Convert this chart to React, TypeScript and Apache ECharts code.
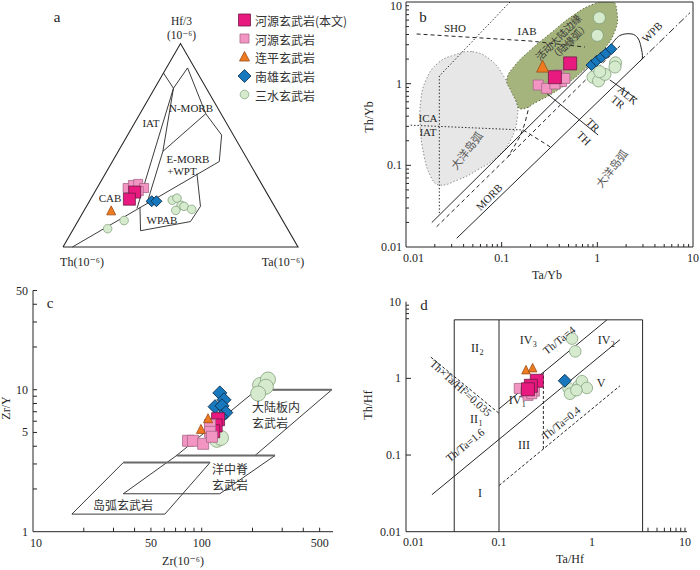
import React, { useEffect, useRef } from "react";
import * as echarts from "echarts";

const SERIF = '"Liberation Serif", "DejaVu Serif", serif';
const CJK = '"Noto Sans CJK SC", "Noto Sans CJK JP", sans-serif';
const INK = "#262626";

/* ================= Panel a : Th - Hf/3 - Ta  (compositions [Th, Hf/3, Ta]) ================= */
const aThisStudy = [[0.56, 0.27, 0.17], [0.6, 0.235, 0.165]];
const aHeyuan = [[0.58, 0.29, 0.13], [0.55, 0.305, 0.145], [0.525, 0.31, 0.165], [0.51, 0.29, 0.2], [0.54, 0.275, 0.185]];
const aLianping = [[0.705, 0.18, 0.115]];
const aNanxiong = [[0.51, 0.225, 0.265], [0.49, 0.225, 0.285]];
const aSanshui = [[0.42, 0.23, 0.35], [0.395, 0.24, 0.365], [0.395, 0.205, 0.4], [0.43, 0.18, 0.39], [0.385, 0.2, 0.415], [0.36, 0.185, 0.455], [0.675, 0.13, 0.195], [0.765, 0.09, 0.145]];

const aTriangle = [[1, 0, 0], [0, 1, 0], [0, 0, 1], [1, 0, 0]];
const aLineEW = [[0.96, 0, 0.04], [0.125, 0.42, 0.455]];
const aNMorbTop = [[0.145, 0.855, 0], [0.14, 0.78, 0.08], [0.03, 0.88, 0.09], [0.065, 0.655, 0.28], [0.05, 0.55, 0.4], [0.125, 0.42, 0.455]];
const aNMorbLeft = [[0.14, 0.78, 0.08], [0.34, 0.47, 0.19], [0.535, 0.215, 0.25]];
const aNMorbBase = [[0.34, 0.47, 0.19], [0.065, 0.655, 0.28]];
const aArcLine = [[0.14, 0.78, 0.08], [0.59, 0.19, 0.22]];
const aWPAB = [[0.575, 0.195, 0.23], [0.63, 0.08, 0.29], [0.395, 0.125, 0.48], [0.315, 0.2, 0.485], [0.25, 0.36, 0.39]];

/* ================= Panel b : Th/Yb vs Ta/Yb ================= */
const bThisStudy = [[0.52, 1.77], [0.36, 1.2]];
const bHeyuan = [[0.241, 0.963], [0.295, 0.877], [0.39, 1.28], [0.423, 1.06], [0.458, 1.16], [0.36, 0.99]];
const bLianping = [[0.268, 1.64]];
const bNanxiong = [[0.87, 1.69], [0.98, 1.9], [1.1, 2.1], [1.23, 2.35], [1.4, 2.65]];
const bSanshui = [[1.05, 6.4], [1.0, 3.9], [0.9, 1.2], [1.03, 1.08], [1.2, 1.3], [1.06, 1.4], [1.55, 1.8], [1.53, 1.6]];

const bOceanArcField = [[0.0496, 2.46], [0.0767, 1.95], [0.1057, 1.216], [0.14, 0.63], [0.146, 0.394], [0.124, 0.204], [0.09, 0.128], [0.0558, 0.0877], [0.0346, 0.066], [0.0222, 0.0574], [0.0182, 0.0725], [0.0155, 0.128], [0.0141, 0.297], [0.0143, 0.63], [0.0162, 1.11], [0.0214, 1.77], [0.0318, 2.24]];
const bActiveMarginField = [[1.42, 10.3], [1.61, 7.28], [1.54, 4.54], [1.16, 2.58], [0.72, 1.47], [0.412, 0.877], [0.235, 0.601], [0.158, 0.49], [0.14, 0.631], [0.124, 0.835], [0.113, 1.11], [0.134, 1.61], [0.2, 2.58], [0.324, 4.14], [0.566, 6.93], [0.915, 9.44]];
const bArrayUpper = [[0.0186, 0.0199], [1.42, 3.06]];
const bArrayCap = [[1.42, 3.06], [1.72, 3.89], [2.3, 4.06], [2.65, 3.62], [2.86, 2.81], [2.96, 2.06], [2.79, 1.89]];
const bArrayLower = [[0.0339, 0.0128], [2.79, 1.89]];
const bTrend = [[2.79, 1.89], [9.3, 7.4]];
const bThLine = [[0.0209, 0.0177], [0.117, 0.128], [0.155, 0.224], [0.175, 0.327], [0.193, 0.522]];
const bTrLine = [[0.117, 0.128], [1.72, 2.89]];
const bIcaLink = [[0.168, 0.271], [0.32, 0.169]];
const bIcaIat = [[0.0112, 0.31], [0.168, 0.271]];
const bShoIca = [[0.0129, 4.06], [0.198, 3.33], [0.741, 2.81]];
const bOceanic = [[0.122, 10], [0.0223, 1.24], [0.0223, 0.0247]];
const bTrTh = [[0.295, 0.762], [1.02, 0.235]];
const bAlkTr = [[1.35, 1.11], [2.59, 0.648]];
const bTickMajor = [0.1, 1];
const bTickMinor = [0.02, 0.03, 0.04, 0.05, 0.06, 0.07, 0.08, 0.09, 0.2, 0.3, 0.4, 0.5, 0.6, 0.7, 0.8, 0.9, 2, 3, 4, 5, 6, 7, 8, 9];
const bLabelVals = [0.01, 0.1, 1, 10];
const bLabels = ["0.01", "0.1", "1", "10"];

/* ================= Panel c : Zr/Y vs Zr ================= */
const cThisStudy = [[125, 6.2], [121, 5.6], [117, 5.1]];
const cHeyuan = [[83, 4.37], [88.7, 4.37], [102, 4.16], [112, 5.66], [112, 5.05], [115, 4.66]];
const cLianping = [[109, 6.3], [99, 5.3]];
const cNanxiong = [[128, 9.5], [135.5, 8.5], [120, 7.6], [132, 7.7], [139, 6.9], [130, 6.45]];
const cSanshui = [[222, 10.8], [247, 11.8], [240, 10.5], [216, 9.4], [123, 4.44], [130, 4.58]];
const cIAB = [[34.3, 3.07], [112, 3.07], [60.5, 1.33], [17, 1.33]];
const cMORB = [[71, 3.44], [272, 3.44], [128, 1.85], [34.3, 1.85]];
const cWPB = [[212, 10], [590, 10], [207, 3.44], [71, 3.44]];
const cXTicks = [20, 30, 40, 50, 60, 70, 80, 90, 100, 200, 300, 400, 500];
const cXLabelVals = [10, 50, 100, 500];
const cXLabels = ["10", "50", "100", "500"];
const cYTicks = [2, 3, 4, 5, 6, 7, 8, 9, 10, 20, 30, 40, 50];
const cYLabelVals = [1, 5, 10, 50];
const cYLabels = ["1", "5", "10", "50"];

/* ================= Panel d : Th/Hf vs Ta/Hf ================= */
const dThisStudy = [[0.255, 0.93], [0.22, 0.8], [0.205, 0.72]];
const dHeyuan = [[0.165, 0.74], [0.195, 0.66], [0.24, 0.68], [0.205, 0.6], [0.225, 0.63]];
const dLianping = [[0.195, 1.3], [0.23, 1.38]];
const dNanxiong = [[0.51, 0.93]];
const dSanshui = [[0.61, 3.3], [0.66, 2.25], [0.56, 0.74], [0.58, 0.63], [0.72, 0.8], [0.78, 0.92], [0.88, 0.75], [0.68, 0.7]];
const dBox = [[0.033, 0.01], [0.033, 5.8], [3.5, 5.8], [3.5, 0.01]];
const dDivide = [[0.1, 0.01], [0.1, 5.8]];
const dThTa16 = [[0.019, 0.0304], [2.0, 3.2]];
const dThTa4 = [[0.1, 0.4], [1.45, 5.8]];
const dThTa04 = [[0.1, 0.04], [2.0, 0.8]];
const dProduct = [[0.0185, 1.89], [0.1, 0.35]];
const dVertical = [[0.3, 0.12], [0.3, 1.2]];
const dXTicks = [4, 5, 6, 7, 8, 9, 10];
const dYTickMajor = [0.1, 1];
const dYTickMinor = [6, 7, 8, 9];

const legendNames = ["河源玄武岩(本文)", "河源玄武岩", "连平玄武岩", "南雄玄武岩", "三水玄武岩"];

/* ================= styles ================= */
const STY: any = {
  thisStudy: { color: "#e8197f", borderColor: "#6e1a44", borderWidth: 0.8 },
  heyuan: { color: "#f395c3", borderColor: "#a8678a", borderWidth: 0.8 },
  lianping: { color: "#ef7b21", borderColor: "#9a4b15", borderWidth: 0.8 },
  nanxiong: { color: "#1778be", borderColor: "#0c2f4d", borderWidth: 0.9 },
  sanshui: { color: "#d6ebcd", borderColor: "#809f7b", borderWidth: 0.8 },
};
const SYM: any = { thisStudy: "rect", heyuan: "rect", lianping: "triangle", nanxiong: "diamond", sanshui: "circle" };
const DASH = [4, 3];
const DOT = [1.4, 2];
const DASHDOT = [7, 2.5, 1.5, 2.5];

const tern = (p: number[]) => {
  const s = p[0] + p[1] + p[2];
  return [(p[2] + p[1] / 2) / s, (p[1] * Math.sqrt(3)) / 2 / s];
};

function shape(grid: number, pts: number[][], o: any = {}) {
  return {
    type: "custom",
    coordinateSystem: "cartesian2d",
    xAxisIndex: grid,
    yAxisIndex: grid,
    dimensions: ["x", "y"],
    encode: { x: 0, y: 1 },
    data: [pts[0]],
    clip: !!o.clip,
    silent: true,
    z: o.z ?? 3,
    renderItem: (_p: any, api: any) => ({
      type: o.closed ? "polygon" : "polyline",
      shape: { points: pts.map((p) => api.coord(p)), smooth: o.smooth ?? 0 },
      style: {
        fill: o.fill ?? "none",
        stroke: o.stroke ?? INK,
        lineWidth: o.width ?? 1,
        lineDash: o.dash ?? null,
      },
    }),
  };
}

function scatter(grid: number, data: number[][], kind: string, size: number) {
  return {
    type: "scatter",
    xAxisIndex: grid,
    yAxisIndex: grid,
    data,
    symbol: SYM[kind],
    symbolSize: size,
    itemStyle: { ...STY[kind], opacity: 1 },
    z: 5,
    silent: true,
    clip: false,
  };
}

function ticks(grid: number, axis: string, vals: number[], fixed: number, len: number) {
  return {
    type: "custom",
    coordinateSystem: "cartesian2d",
    xAxisIndex: grid,
    yAxisIndex: grid,
    dimensions: ["x", "y"],
    encode: { x: 0, y: 1 },
    data: vals.map((v) => (axis === "x" ? [v, fixed] : [fixed, v])),
    clip: false,
    silent: true,
    z: 6,
    renderItem: (_p: any, api: any) => {
      const c = api.coord([api.value(0), api.value(1)]);
      const s = axis === "x" ? { x1: c[0], y1: c[1], x2: c[0], y2: c[1] - len } : { x1: c[0], y1: c[1], x2: c[0] + len, y2: c[1] };
      return { type: "line", shape: s, style: { stroke: INK, lineWidth: 1 } };
    },
  };
}

function axisLabels(grid: number, axis: string, vals: number[], texts: string[], fixed: number, off: number) {
  return {
    type: "custom",
    coordinateSystem: "cartesian2d",
    xAxisIndex: grid,
    yAxisIndex: grid,
    dimensions: ["x", "y"],
    encode: { x: 0, y: 1 },
    data: vals.map((v) => (axis === "x" ? [v, fixed] : [fixed, v])),
    clip: false,
    silent: true,
    z: 6,
    renderItem: (p: any, api: any) => {
      const c = api.coord([api.value(0), api.value(1)]);
      const i = p.dataIndex;
      const isX = axis === "x";
      const align = isX ? (i === 0 ? "left" : "center") : "right";
      const x = isX ? (i === 0 ? c[0] - 3 : c[0]) : c[0] - off;
      const y = isX ? c[1] + off : Math.max(c[1], 6);
      return {
        type: "text",
        x,
        y,
        style: {
          text: texts[i],
          font: `12px ${SERIF}`,
          fill: INK,
          textAlign: align,
          textVerticalAlign: "middle",
          align,
          verticalAlign: "middle",
        },
      };
    },
  };
}

function label(x: number, y: number, text: string, o: any = {}) {
  const align = o.align ?? "center";
  return {
    type: "text",
    x,
    y,
    rotation: ((o.rot ?? 0) * Math.PI) / 180,
    z: 100,
    silent: true,
    style: {
      text,
      font: `${o.size ?? 11}px ${o.font ?? SERIF}`,
      fill: o.color ?? INK,
      textAlign: align,
      textVerticalAlign: "middle",
      align,
      verticalAlign: "middle",
    },
  };
}

function roman(x: number, y: number, main: string, sub: string) {
  let w = 0;
  for (const ch of main) w += ch === "I" ? 4 : 8.7;
  const left = x - w / 2;
  const out: any[] = [label(left, y, main, { size: 12, align: "left" })];
  if (sub) out.push(label(left + w + 0.5, y + 4, sub, { size: 8, align: "left" }));
  return out;
}

function buildOption() {
  const series: any[] = [];
  // ---------- a ----------
  [aTriangle, aLineEW, aNMorbTop, aNMorbLeft, aNMorbBase, aArcLine, aWPAB].forEach((l) =>
    series.push(shape(0, l.map(tern), { width: l === aTriangle ? 1.1 : 0.9 }))
  );
  series.push(scatter(0, aSanshui.map(tern), "sanshui", 8.5));
  series.push(scatter(0, aNanxiong.map(tern), "nanxiong", 11));
  series.push(scatter(0, aHeyuan.map(tern), "heyuan", 9));
  series.push(scatter(0, aThisStudy.map(tern), "thisStudy", 12));
  series.push(scatter(0, aLianping.map(tern), "lianping", 9));

  // ---------- b ----------
  series.push(shape(1, bOceanArcField, { closed: true, fill: "#e7e7e7", stroke: "#8a8a8a", dash: DOT, smooth: 0.45, z: 1, clip: true }));
  series.push(shape(1, bActiveMarginField, { closed: true, fill: "#a5b47d", stroke: "#5e6b3e", dash: DOT, smooth: 0.45, z: 1, clip: true }));
  series.push(shape(1, bArrayUpper, {}));
  series.push(shape(1, bArrayLower, {}));
  series.push(shape(1, bArrayCap, { smooth: 0.35 }));
  series.push(shape(1, bTrend, { dash: DASHDOT, clip: true }));
  series.push(shape(1, bThLine, { dash: DASH }));
  series.push(shape(1, bTrLine, { dash: DASH }));
  series.push(shape(1, bIcaLink, { dash: DASH }));
  series.push(shape(1, bIcaIat, { dash: DOT }));
  series.push(shape(1, bShoIca, { dash: DASH }));
  series.push(shape(1, bOceanic, { dash: DOT, clip: true }));
  series.push(shape(1, bTrTh, {}));
  series.push(shape(1, bAlkTr, {}));
  series.push(shape(1, [[0.01, 0.01], [10, 0.01], [10, 10], [0.01, 10]], { closed: true, z: 4 }));
  series.push(scatter(1, bSanshui, "sanshui", 12));
  series.push(scatter(1, bNanxiong, "nanxiong", 11));
  series.push(scatter(1, bHeyuan, "heyuan", 10));
  series.push(scatter(1, bThisStudy, "thisStudy", 13));
  series.push(scatter(1, bLianping, "lianping", 12));
  series.push(ticks(1, "x", bTickMinor, 0.01, 3));
  series.push(ticks(1, "x", bTickMajor, 0.01, 5));
  series.push(ticks(1, "y", bTickMinor, 0.01, 3));
  series.push(ticks(1, "y", bTickMajor, 0.01, 5));
  series.push(axisLabels(1, "x", bLabelVals, bLabels, 0.01, 11));
  series.push(axisLabels(1, "y", bLabelVals, bLabels, 0.01, 4));

  // ---------- c ----------
  [cIAB, cMORB, cWPB].forEach((p) => series.push(shape(2, p, { closed: true, width: 0.9 })));
  [cIAB, cMORB, cWPB].forEach((p) => series.push(shape(2, [p[0], p[1]], { width: 2, stroke: "#6b6b6b" })));
  series.push(shape(2, [[600, 1], [10, 1], [10, 50]], { z: 4 }));
  series.push(scatter(2, cSanshui, "sanshui", 15));
  series.push(scatter(2, cNanxiong, "nanxiong", 14));
  series.push(scatter(2, cThisStudy, "thisStudy", 13));
  series.push(scatter(2, cHeyuan, "heyuan", 11));
  series.push(scatter(2, cLianping, "lianping", 9));
  series.push(ticks(2, "x", cXTicks, 1, 4));
  series.push(ticks(2, "y", cYTicks, 10, 4));
  series.push(axisLabels(2, "x", cXLabelVals, cXLabels, 1, 11.5));
  series.push(axisLabels(2, "y", cYLabelVals, cYLabels, 10, 5));

  // ---------- d ----------
  series.push(shape(3, dBox, {}));
  series.push(shape(3, dDivide, {}));
  series.push(shape(3, dThTa16, {}));
  series.push(shape(3, dThTa4, {}));
  series.push(shape(3, dThTa04, { dash: [3, 2] }));
  series.push(shape(3, dProduct, { dash: [3, 2] }));
  series.push(shape(3, dVertical, { dash: [3, 2] }));
  series.push(shape(3, [[10.5, 0.01], [0.01, 0.01], [0.01, 10]], { z: 4 }));
  series.push(scatter(3, dSanshui, "sanshui", 11.5));
  series.push(scatter(3, dNanxiong, "nanxiong", 13));
  series.push(scatter(3, dHeyuan, "heyuan", 10));
  series.push(scatter(3, dThisStudy, "thisStudy", 13));
  series.push(scatter(3, dLianping, "lianping", 8.5));
  series.push(ticks(3, "x", dXTicks, 0.01, 4));
  series.push(ticks(3, "y", dYTickMajor, 0.01, 5));
  series.push(ticks(3, "y", dYTickMinor, 0.01, 3));
  series.push(axisLabels(3, "x", bLabelVals, bLabels, 0.01, 10.5));
  series.push(axisLabels(3, "y", bLabelVals, bLabels, 0.01, 5));

  // ---------- texts ----------
  const g: any[] = [];
  // a
  g.push(label(57, 17, "a", { size: 15 }));
  g.push(label(181.5, 20.5, "Hf/3", { size: 11.5 }));
  g.push(label(181.5, 34.5, "(10⁻⁶)", { size: 11.5 }));
  g.push(label(82, 262, "Th(10⁻⁶)", { size: 12 }));
  g.push(label(283, 262, "Ta(10⁻⁶)", { size: 12 }));
  g.push(label(151, 123, "IAT"));
  g.push(label(191, 108, "N-MORB"));
  g.push(label(188, 159, "E-MORB"));
  g.push(label(182, 171, "+WPT"));
  g.push(label(110, 198, "CAB"));
  g.push(label(162, 220, "WPAB"));
  // legend
  const rows = [20, 38.5, 57, 76, 94.5];
  const mk = ["thisStudy", "heyuan", "lianping", "nanxiong", "sanshui"];
  rows.forEach((y, i) => {
    const s = STY[mk[i]];
    const st = { fill: s.color, stroke: s.borderColor, lineWidth: 0.8 };
    const cx = 244.5;
    if (i === 0) g.push({ type: "rect", shape: { x: cx - 6, y: y - 6, width: 12, height: 12 }, style: st, z: 100 });
    if (i === 1) g.push({ type: "rect", shape: { x: cx - 4.5, y: y - 4.5, width: 9, height: 9 }, style: st, z: 100 });
    if (i === 2) g.push({ type: "polygon", shape: { points: [[cx, y - 5.5], [cx + 5, y + 4], [cx - 5, y + 4]] }, style: st, z: 100 });
    if (i === 3) g.push({ type: "polygon", shape: { points: [[cx, y - 6.5], [cx + 6.5, y], [cx, y + 6.5], [cx - 6.5, y]] }, style: st, z: 100 });
    if (i === 4) g.push({ type: "circle", shape: { cx, cy: y, r: 4.3 }, style: st, z: 100 });
    g.push(label(255, y + 0.5, legendNames[i], { size: 12, font: CJK, align: "left", color: "#333" }));
  });
  // b
  g.push(label(423, 17, "b", { size: 15 }));
  g.push(label(455, 28, "SHO"));
  g.push(label(527, 31, "IAB"));
  g.push(label(428, 118, "ICA"));
  g.push(label(428, 132, "IAT"));
  g.push(label(466, 150, "大洋岛弧", { rot: 52, font: CJK, color: "#555", size: 11 }));
  g.push(label(558, 37, "活动大陆边缘", { rot: 45, font: CJK, size: 10, color: "#3a3a3a" }));
  g.push(label(569, 41, "（陆缘弧）", { rot: 45, font: CJK, size: 10, color: "#3a3a3a" }));
  g.push(label(489, 197, "MORB", { rot: 45 }));
  g.push(label(652, 32, "WPB", { rot: 45 }));
  g.push(label(628, 95, "ALK", { rot: -40 }));
  g.push(label(618, 102, "TR", { rot: -40 }));
  g.push(label(593, 125, "TR", { rot: -45 }));
  g.push(label(584, 138, "TH", { rot: -45 }));
  g.push(label(611, 168, "大洋岛弧", { rot: 52, font: CJK, color: "#555", size: 11 }));
  g.push(label(369, 117, "Th/Yb", { rot: 90, size: 12 }));
  g.push(label(547, 275, "Ta/Yb", { size: 12 }));
  // c
  g.push(label(50, 303, "c", { size: 15 }));
  g.push(label(252, 406, "大陆板内", { font: CJK, size: 12, align: "left", color: "#333" }));
  g.push(label(252, 422, "玄武岩", { font: CJK, size: 12, align: "left", color: "#333" }));
  g.push(label(212, 468, "洋中脊", { font: CJK, size: 12, align: "left", color: "#333" }));
  g.push(label(212, 484, "玄武岩", { font: CJK, size: 12, align: "left", color: "#333" }));
  g.push(label(93, 504, "岛弧玄武岩", { font: CJK, size: 12, align: "left", color: "#333" }));
  g.push(label(6, 408, "Zr/Y", { rot: 90, size: 12 }));
  g.push(label(183, 561, "Zr(10⁻⁶)", { size: 12 }));
  // d
  g.push(label(424, 305, "d", { size: 15 }));
  g.push(...roman(475, 348, "II", "2"));
  g.push(...roman(526, 340, "IV", "3"));
  g.push(...roman(604, 340, "IV", "2"));
  g.push(...roman(601, 383, "V", ""));
  g.push(...roman(515, 400, "IV", "1"));
  g.push(...roman(474, 419, "II", "1"));
  g.push(...roman(524, 445, "III", ""));
  g.push(...roman(480, 493, "I", ""));
  g.push(label(559, 340, "Th/Ta=4", { rot: 39 }));
  g.push(label(465, 445, "Th/Ta=1.6", { rot: 39 }));
  g.push(label(561, 423, "Th/Ta=0.4", { rot: 39 }));
  g.push(label(461, 388, "Th×Ta/Hf²=0.035", { rot: -42 }));
  g.push(label(368, 405, "Th/Hf", { rot: 90, size: 12 }));
  g.push(label(570, 559, "Ta/Hf", { size: 12 }));

  const grids = [
    { left: 63, top: 43.5, width: 235, height: 203.5 },
    { left: 406, top: 2, width: 287, height: 245 },
    { left: 33, top: 290.5, width: 300, height: 241.2 },
    { left: 406, top: 301.7, width: 279, height: 230 },
  ].map((gr) => ({ ...gr, show: false, containLabel: false, outerBoundsMode: "none" }));

  return {
    animation: false,
    backgroundColor: "#ffffff",
    grid: grids,
    xAxis: [
      { gridIndex: 0, type: "value", min: 0, max: 1, show: false },
      { gridIndex: 1, type: "log", logBase: 10, min: 0.01, max: 10, show: false },
      { gridIndex: 2, type: "log", logBase: 10, min: 10, max: 600, show: false },
      { gridIndex: 3, type: "log", logBase: 10, min: 0.01, max: 10, show: false },
    ],
    yAxis: [
      { gridIndex: 0, type: "value", min: 0, max: Math.sqrt(3) / 2, show: false },
      { gridIndex: 1, type: "log", logBase: 10, min: 0.01, max: 10, show: false },
      { gridIndex: 2, type: "log", logBase: 10, min: 1, max: 50, show: false },
      { gridIndex: 3, type: "log", logBase: 10, min: 0.01, max: 10, show: false },
    ],
    series,
    graphic: g,
  };
}

export default function App() {
  const ref = useRef<HTMLDivElement>(null);
  useEffect(() => {
    const chart = echarts.init(ref.current as HTMLDivElement, null, { renderer: "svg" });
    chart.setOption(buildOption() as any);
    return () => chart.dispose();
  }, []);
  return (
    <div
      ref={ref}
      style={{ position: "fixed", left: 0, top: 0, width: 700, height: 570, background: "#fff" }}
    />
  );
}
